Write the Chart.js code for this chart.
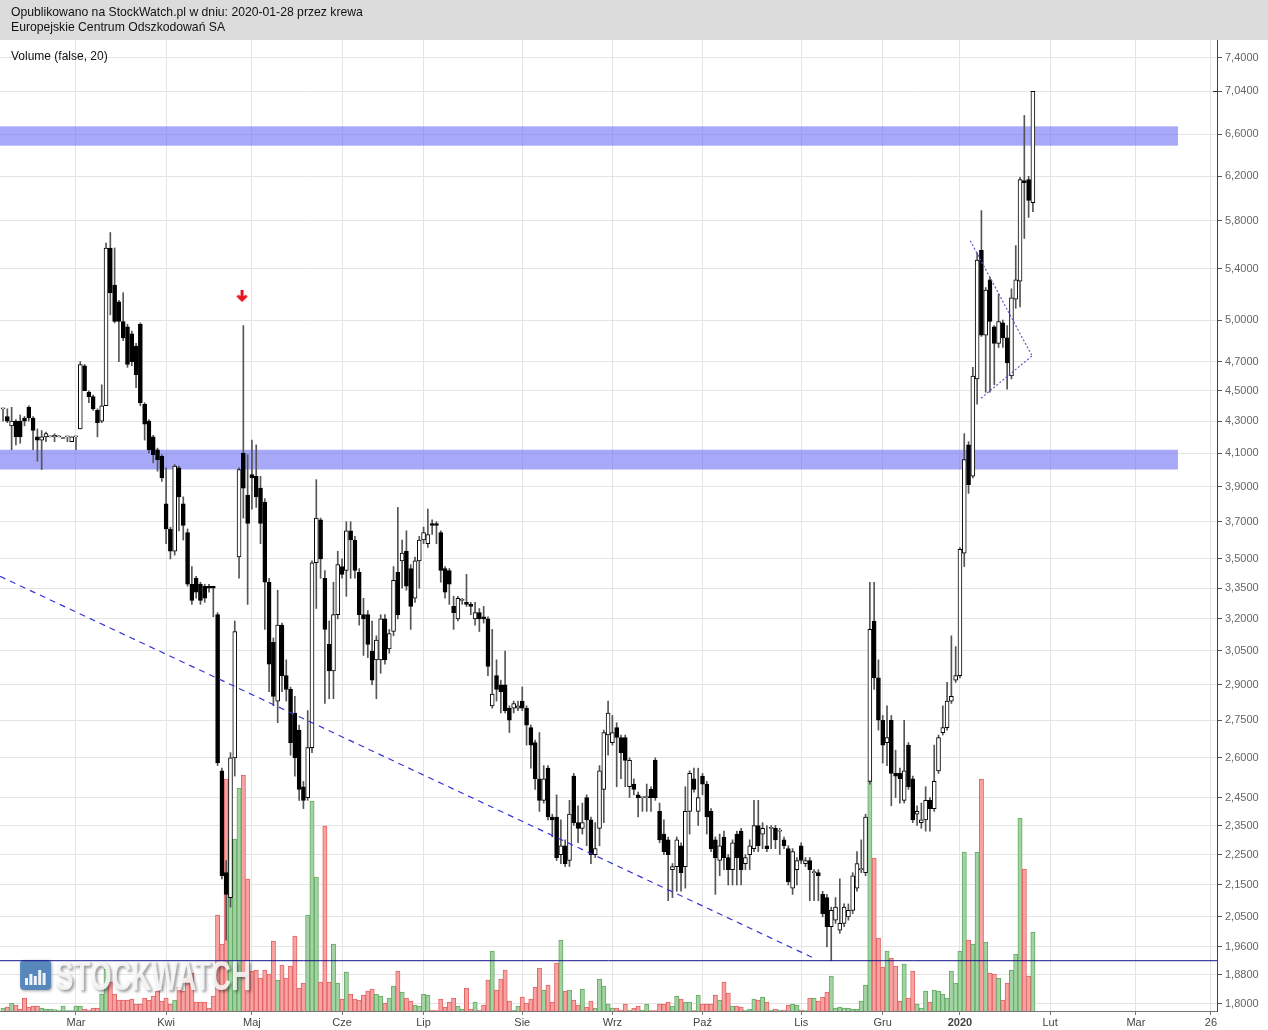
<!DOCTYPE html>
<html>
<head>
<meta charset="utf-8">
<script src="https://cdn.jsdelivr.net/npm/chart.js@4.4.1/dist/chart.umd.min.js"></script>
<style>
  html, body { margin: 0; padding: 0; background: #fff; }
</style>
</head>
<body>
<canvas id="myChart" width="1268" height="1030"></canvas>
<script>
const ctx = document.getElementById('myChart').getContext('2d')
Chart.defaults.font.family = '"Liberation Sans", Arial, sans-serif'

// notowania dzienne, indeks = kolejna sesja od 2019-02-06
const openP = [
  4.38, 4.33, 4.27, 4.30, 4.30, 4.32, 4.39, 4.32, 4.20, 4.18,
  4.20, 4.20, 4.20, 4.20, 4.19, 4.20, 4.17, 4.20, 4.25, 4.67,
  4.49, 4.46, 4.37, 4.30, 4.40, 5.57, 5.27, 5.14, 4.99, 4.95,
  4.90, 4.81, 4.97, 4.41, 4.30, 4.20, 4.12, 4.08, 3.80, 3.66,
  3.54, 4.01, 3.80, 3.64, 3.37, 3.40, 3.37, 3.36, 3.36, 3.36,
  3.22, 2.55, 2.19, 2.11, 2.60, 3.51, 4.10, 3.85, 3.97, 3.96,
  3.89, 3.81, 3.38, 3.09, 2.83, 3.17, 2.94, 2.88, 2.78, 2.71,
  2.49, 2.45, 2.64, 3.48, 3.71, 3.40, 3.08, 2.96, 3.22, 3.46,
  3.44, 3.65, 3.60, 3.43, 3.22, 3.22, 3.05, 3.01, 3.01, 3.20,
  3.06, 3.14, 3.43, 3.49, 3.54, 3.45, 3.30, 3.49, 3.60, 3.58,
  3.69, 3.69, 3.64, 3.45, 3.44, 3.26, 3.20, 3.29, 3.28, 3.27,
  3.20, 3.23, 3.21, 3.20, 2.81, 2.94, 2.90, 2.90, 2.80, 2.80,
  2.80, 2.83, 2.80, 2.72, 2.66, 2.52, 2.44, 2.56, 2.38, 2.38,
  2.25, 2.28, 2.23, 2.53, 2.36, 2.34, 2.45, 2.37, 2.25, 2.34,
  2.48, 2.69, 2.66, 2.72, 2.68, 2.68, 2.49, 2.50, 2.46, 2.45,
  2.45, 2.48, 2.59, 2.40, 2.32, 2.30, 2.20, 2.21, 2.28, 2.21,
  2.40, 2.52, 2.40, 2.53, 2.50, 2.40, 2.30, 2.23, 2.31, 2.24,
  2.20, 2.32, 2.33, 2.22, 2.25, 2.27, 2.35, 2.32, 2.28, 2.34,
  2.34, 2.33, 2.30, 2.27, 2.14, 2.20, 2.28, 2.22, 2.23, 2.19,
  2.19, 2.12, 2.11, 2.02, 2.04, 2.01, 2.03, 2.05, 2.07, 2.14,
  2.20, 2.19, 2.51, 3.19, 2.93, 2.75, 2.66, 2.75, 2.54, 2.54,
  2.44, 2.65, 2.52, 2.39, 2.36, 2.37, 2.44, 2.41, 2.55, 2.70,
  2.72, 2.83, 2.92, 2.94, 3.53, 4.15, 3.96, 4.58, 5.55, 4.89,
  5.31, 4.95, 4.83, 4.98, 4.87, 4.60, 5.16, 5.30, 6.16, 6.17,
  5.96
]
const highP = [
  4.38, 4.38, 4.39, 4.31, 4.34, 4.33, 4.40, 4.33, 4.25, 4.24,
  4.23, 4.20, 4.22, 4.20, 4.19, 4.20, 4.20, 4.20, 4.70, 4.68,
  4.50, 4.47, 4.38, 4.54, 5.61, 5.70, 5.57, 5.15, 5.21, 4.97,
  4.92, 4.83, 4.98, 4.42, 4.31, 4.21, 4.13, 4.09, 4.01, 3.67,
  4.03, 4.02, 3.84, 3.66, 3.46, 3.41, 3.38, 3.37, 3.37, 3.36,
  3.23, 2.56, 2.23, 2.62, 3.19, 4.01, 4.96, 4.09, 4.18, 4.15,
  3.96, 3.83, 3.40, 3.11, 3.34, 3.18, 3.01, 2.89, 2.85, 2.73,
  2.51, 2.79, 3.49, 3.94, 3.72, 3.44, 3.19, 3.38, 3.54, 3.50,
  3.70, 3.70, 3.62, 3.45, 3.30, 3.24, 3.19, 3.12, 3.22, 3.22,
  3.15, 3.46, 3.78, 3.60, 3.65, 3.47, 3.51, 3.62, 3.67, 3.77,
  3.71, 3.70, 3.65, 3.46, 3.45, 3.31, 3.31, 3.30, 3.42, 3.28,
  3.28, 3.25, 3.26, 3.21, 3.15, 3.01, 2.92, 3.05, 2.81, 2.83,
  2.83, 2.89, 2.81, 2.73, 2.67, 2.70, 2.57, 2.57, 2.39, 2.46,
  2.37, 2.30, 2.44, 2.54, 2.42, 2.43, 2.46, 2.38, 2.36, 2.57,
  2.71, 2.83, 2.77, 2.74, 2.69, 2.69, 2.60, 2.52, 2.47, 2.45,
  2.50, 2.49, 2.60, 2.43, 2.37, 2.31, 2.22, 2.31, 2.29, 2.49,
  2.55, 2.56, 2.56, 2.54, 2.51, 2.41, 2.31, 2.32, 2.33, 2.25,
  2.30, 2.33, 2.34, 2.25, 2.30, 2.44, 2.44, 2.36, 2.35, 2.35,
  2.35, 2.34, 2.31, 2.28, 2.27, 2.24, 2.29, 2.24, 2.24, 2.20,
  2.20, 2.13, 2.12, 2.08, 2.11, 2.17, 2.09, 2.09, 2.19, 2.26,
  2.30, 2.39, 3.38, 3.38, 3.01, 2.77, 2.81, 2.77, 2.63, 2.56,
  2.75, 2.66, 2.53, 2.42, 2.43, 2.49, 2.45, 2.65, 2.69, 2.81,
  2.91, 3.12, 3.07, 3.56, 4.22, 4.17, 4.66, 5.53, 5.89, 5.25,
  5.33, 4.96, 5.20, 5.00, 4.96, 5.24, 5.59, 6.19, 6.79, 6.20,
  7.04
]
const lowP = [
  4.30, 4.29, 4.12, 4.15, 4.16, 4.27, 4.30, 4.12, 4.05, 4.00,
  4.17, 4.20, 4.17, 4.20, 4.19, 4.17, 4.17, 4.12, 4.25, 4.50,
  4.42, 4.37, 4.20, 4.29, 4.40, 5.04, 4.98, 4.70, 4.85, 4.66,
  4.67, 4.52, 4.40, 4.18, 4.10, 4.04, 3.99, 3.93, 3.58, 3.50,
  3.52, 3.65, 3.60, 3.36, 3.27, 3.30, 3.27, 3.28, 3.33, 3.21,
  2.57, 2.17, 1.98, 2.08, 2.53, 3.40, 3.72, 3.27, 3.77, 3.78,
  3.58, 3.15, 2.87, 2.81, 2.74, 2.87, 2.83, 2.61, 2.53, 2.44,
  2.41, 2.44, 2.62, 3.25, 3.40, 2.82, 2.84, 2.84, 3.20, 3.40,
  3.31, 3.40, 3.40, 3.17, 3.03, 3.02, 2.90, 2.84, 2.95, 2.99,
  3.04, 3.12, 3.20, 3.35, 3.34, 3.15, 3.28, 3.35, 3.58, 3.56,
  3.63, 3.58, 3.38, 3.30, 3.27, 3.15, 3.19, 3.27, 3.26, 3.22,
  3.17, 3.14, 3.18, 2.94, 2.80, 2.83, 2.78, 2.78, 2.70, 2.78,
  2.79, 2.79, 2.65, 2.56, 2.48, 2.40, 2.43, 2.37, 2.31, 2.23,
  2.22, 2.21, 2.21, 2.35, 2.29, 2.32, 2.28, 2.22, 2.24, 2.28,
  2.36, 2.61, 2.65, 2.49, 2.52, 2.49, 2.45, 2.46, 2.38, 2.40,
  2.40, 2.40, 2.44, 2.29, 2.25, 2.10, 2.11, 2.13, 2.13, 2.14,
  2.32, 2.47, 2.35, 2.46, 2.32, 2.26, 2.12, 2.18, 2.20, 2.15,
  2.15, 2.15, 2.15, 2.20, 2.20, 2.26, 2.26, 2.27, 2.26, 2.27,
  2.27, 2.25, 2.27, 2.15, 2.12, 2.15, 2.22, 2.21, 2.10, 2.10,
  2.10, 2.05, 1.96, 1.92, 2.03, 2.00, 2.02, 2.04, 2.06, 2.13,
  2.19, 2.18, 2.50, 2.88, 2.71, 2.58, 2.57, 2.42, 2.45, 2.43,
  2.43, 2.48, 2.36, 2.35, 2.34, 2.33, 2.33, 2.40, 2.54, 2.69,
  2.71, 2.82, 2.91, 2.93, 3.46, 3.86, 3.95, 4.41, 4.88, 4.49,
  4.49, 4.54, 4.80, 4.80, 4.51, 4.58, 5.09, 5.10, 5.65, 5.83,
  5.88
]
const closeP = [
  4.38, 4.30, 4.30, 4.20, 4.20, 4.30, 4.32, 4.24, 4.18, 4.20,
  4.22, 4.20, 4.21, 4.20, 4.19, 4.20, 4.20, 4.20, 4.68, 4.50,
  4.46, 4.38, 4.29, 4.40, 5.57, 5.21, 4.99, 4.99, 4.87, 4.68,
  4.70, 4.61, 4.42, 4.28, 4.12, 4.09, 4.06, 3.95, 3.66, 3.54,
  4.02, 3.84, 3.68, 3.37, 3.29, 3.33, 3.29, 3.30, 3.35, 3.35,
  2.58, 2.18, 2.12, 2.60, 3.14, 4.00, 3.89, 3.69, 3.95, 3.84,
  3.69, 3.38, 2.99, 2.85, 3.17, 2.94, 2.88, 2.66, 2.60, 2.48,
  2.44, 2.64, 3.48, 3.72, 3.50, 3.15, 2.96, 3.22, 3.47, 3.42,
  3.65, 3.60, 3.44, 3.22, 3.20, 3.08, 2.92, 3.10, 3.20, 3.01,
  3.13, 3.39, 3.22, 3.53, 3.36, 3.26, 3.49, 3.60, 3.64, 3.63,
  3.68, 3.68, 3.44, 3.33, 3.37, 3.23, 3.30, 3.29, 3.27, 3.26,
  3.23, 3.20, 3.20, 2.98, 2.86, 2.88, 2.87, 2.79, 2.75, 2.82,
  2.81, 2.80, 2.73, 2.65, 2.52, 2.44, 2.52, 2.38, 2.37, 2.24,
  2.28, 2.22, 2.39, 2.36, 2.34, 2.36, 2.37, 2.25, 2.27, 2.55,
  2.70, 2.78, 2.70, 2.68, 2.62, 2.59, 2.59, 2.48, 2.45, 2.45,
  2.45, 2.45, 2.45, 2.30, 2.26, 2.25, 2.21, 2.30, 2.19, 2.40,
  2.54, 2.48, 2.45, 2.50, 2.38, 2.27, 2.24, 2.28, 2.24, 2.20,
  2.29, 2.24, 2.20, 2.24, 2.28, 2.35, 2.28, 2.34, 2.27, 2.34,
  2.30, 2.33, 2.28, 2.16, 2.26, 2.23, 2.23, 2.23, 2.20, 2.19,
  2.18, 2.06, 2.02, 2.07, 2.08, 2.03, 2.08, 2.07, 2.18, 2.22,
  2.20, 2.38, 3.15, 2.93, 2.75, 2.65, 2.68, 2.54, 2.53, 2.52,
  2.55, 2.49, 2.37, 2.40, 2.37, 2.44, 2.41, 2.51, 2.68, 2.72,
  2.83, 2.85, 2.94, 3.55, 4.06, 3.91, 4.60, 5.47, 4.89, 5.23,
  4.99, 4.83, 4.99, 4.87, 4.69, 5.17, 5.31, 6.17, 6.14, 5.98,
  7.04
]
// wolumen, tys. szt.
const volume = [
  3, 4, 8, 6, 2, 13, 4, 5, 5, 3,
  2, 2, 1.5, 0.5, 5, 0.5, 0.5, 5, 5, 2,
  1, 3, 3, 17, 42, 29, 17, 11, 11, 11,
  12, 7, 7, 13, 11, 15, 20, 10, 13, 7,
  11, 24, 20, 33, 38, 9, 9, 9, 3, 15,
  96, 67, 232, 172, 172, 223, 236, 132, 40, 41,
  33, 41, 37, 70, 31, 46, 33, 45, 75, 23,
  28, 96, 210, 134, 29, 185, 29, 67, 28, 12,
  39, 17, 12, 11, 16, 20, 22, 17, 15, 8,
  13, 25, 40, 19, 13, 10, 6, 5, 17, 16,
  1, 0.5, 12, 4, 9, 13, 5, 2, 23, 2,
  9, 1, 6, 31, 60, 21, 32, 41, 10, 1,
  5, 14, 8, 12, 24, 43, 21, 26, 9, 48,
  71, 20, 21, 11, 6, 22, 4, 10, 3, 32,
  25, 7, 3, 3, 1, 7, 1, 3, 5, 1,
  7, 0.5, 0.5, 7, 7, 9, 5, 15, 12, 9,
  9, 0.5, 16, 7, 7, 7, 16, 11, 29, 18,
  5, 5, 4, 1, 2, 12, 11, 14, 9, 1,
  2, 1, 1, 6, 7, 6, 1, 0.5, 13, 13,
  10, 14, 19, 35, 3, 4, 3, 3, 2, 2,
  10, 26, 230, 153, 73, 44, 60, 53, 45, 10,
  47, 13, 40, 7, 3, 20, 9, 21, 20, 17,
  13, 40, 28, 60, 159, 71, 67, 159, 232, 69,
  38, 37, 33, 11, 28, 41, 57, 193, 142, 35,
  79
]

// os X: pierwsza sesja miesiaca
const monthIdx = [17, 38, 58, 79, 98, 121, 142, 163, 186, 205, 223, 244, 264, 281.5]
const monthLabels = ['Mar', 'Kwi', 'Maj', 'Cze', 'Lip', 'Sie', 'Wrz', 'Paź', 'Lis', 'Gru', '2020', 'Lut', 'Mar', '26']
// os Y
const priceTicks = [1.80, 1.88, 1.96, 2.05, 2.15, 2.25, 2.35, 2.45, 2.60, 2.75, 2.90, 3.05, 3.20, 3.35,
  3.50, 3.70, 3.90, 4.10, 4.30, 4.50, 4.70, 5.00, 5.40, 5.80, 6.20, 6.60, 7.04, 7.40]

// rysunki uzytkownika
const bandFrom = [4.00, 6.49]
const bandTo = [4.12, 6.68]
const bandEnd = 273.8
const supportX = [-1, 284]
const supportY = [1.92, 1.92]
const trendX = [-0.71, 188.5]
const trendY = [3.41, 1.93]
const triUpX = [225.4, 239.8]
const triUpY = [5.63, 4.74]
const triLowX = [227.9, 239.8]
const triLowY = [4.45, 4.74]
const arrowX = [55.7]
const arrowY = [5.18]
const lastPrice = 7.04

const idx = openP.map((v, i) => i)
const up = idx.map(i => closeP[i] >= openP[i])

const arrowImg = document.createElement('canvas')
arrowImg.width = 13
arrowImg.height = 13
const ac = arrowImg.getContext('2d')
ac.strokeStyle = '#e8141c'
ac.lineWidth = 3
ac.beginPath()
ac.moveTo(6.5, 0)
ac.lineTo(6.5, 9)
ac.stroke()
ac.beginPath()
ac.moveTo(2, 5.5)
ac.lineTo(6.5, 10)
ac.lineTo(11, 5.5)
ac.stroke()

function pts(xs, ys) {
    return xs.map((x, i) => ({ x: x, y: ys[i] }))
}

const drawings = {
    id: 'drawings',
    beforeDraw(chart) {
        const c = chart.ctx
        c.save()
        c.fillStyle = '#fff'
        c.fillRect(0, 0, chart.width, chart.height)
        c.fillStyle = '#dcdcdc'
        c.fillRect(0, 0, chart.width, 40)
        c.fillStyle = '#111'
        c.font = '12.2px "Liberation Sans", Arial, sans-serif'
        c.textBaseline = 'middle'
        c.fillText('Opublikowano na StockWatch.pl w dniu: 2020-01-28 przez krewa', 11, 13)
        c.fillText('Europejskie Centrum Odszkodowań SA', 11, 28)
        c.restore()
    },
    beforeDatasetsDraw(chart) {
        const { ctx: c, chartArea: a, scales: { x, y } } = chart
        c.save()
        c.beginPath()
        c.rect(a.left, a.top, a.right - a.left, a.bottom - a.top)
        c.clip()
        c.fillStyle = 'rgba(110, 110, 245, 0.6)'
        const x1 = x.getPixelForValue(bandEnd)
        bandFrom.forEach((v, i) => {
            const y0 = y.getPixelForValue(bandTo[i])
            const y1 = y.getPixelForValue(v)
            c.fillRect(a.left, y0, x1 - a.left, y1 - y0)
        })
        c.restore()
    },
    afterDatasetDraw(chart, args) {
        if (args.index !== 0) return
        // znak wodny
        const c = chart.ctx
        const a = chart.chartArea
        const bx = a.left + 20, by = a.bottom - 51
        c.save()
        c.shadowColor = 'rgba(0,0,0,0.4)'
        c.shadowBlur = 3
        c.shadowOffsetX = 1
        c.shadowOffsetY = 1
        c.fillStyle = 'rgba(80, 132, 190, 0.9)'
        c.beginPath()
        c.roundRect(bx, by, 31, 30, 4)
        c.fill()
        c.shadowColor = 'transparent'
        c.fillStyle = 'rgba(255,255,255,0.9)'
        const hs = [7, 11, 9, 15, 12]
        hs.forEach((h, i) => c.fillRect(bx + 5 + i * 4.4, by + 25 - h, 3, h))
        c.shadowColor = 'rgba(0,0,0,0.45)'
        c.shadowBlur = 3
        c.shadowOffsetX = 2
        c.shadowOffsetY = 2
        c.fillStyle = 'rgba(250,250,250,0.88)'
        c.font = 'bold 42px "Liberation Sans", Arial, sans-serif'
        c.textBaseline = 'alphabetic'
        c.translate(bx + 35, by + 30)
        c.scale(0.66, 1)
        c.fillText('STOCKWATCH', 0, 0)
        c.restore()
    },
    afterDraw(chart) {
        const c = chart.ctx
        const a = chart.chartArea
        c.save()
        c.fillStyle = '#111'
        c.font = '12px "Liberation Sans", Arial, sans-serif'
        c.textBaseline = 'middle'
        c.fillText('Volume (false, 20)', 11, 57)
        const yp = Math.round(chart.scales.y.getPixelForValue(lastPrice)) + 0.5
        c.strokeStyle = '#333'
        c.lineWidth = 1
        c.beginPath()
        c.moveTo(a.right - 4, yp)
        c.lineTo(a.right, yp)
        c.stroke()
        c.restore()
    }
}

new Chart(ctx, {
    type: 'bar',
    data: {
        datasets: [
            {
                label: 'Volume',
                yAxisID: 'yv',
                data: idx.map(i => ({ x: i, y: volume[i] })),
                backgroundColor: up.map(u => (u ? '#a3d3a3' : '#f8a2a2')),
                borderColor: up.map(u => (u ? '#63a963' : '#e06464')),
                borderWidth: 1,
                barPercentage: 1,
                categoryPercentage: 1,
                grouped: false,
                order: 10,
            },
            {
                label: 'wicks',
                data: idx.map(i => ({ x: i, y: [lowP[i], highP[i]] })),
                backgroundColor: '#555',
                borderWidth: 0,
                barThickness: 1,
                minBarLength: 1,
                grouped: false,
                order: 3,
            },
            {
                label: 'bodies',
                data: idx.map(i => ({ x: i, y: [openP[i], closeP[i]] })),
                backgroundColor: up.map(u => (u ? '#fff' : '#000')),
                borderColor: '#000',
                borderWidth: 1,
                borderSkipped: false,
                barThickness: 4,
                minBarLength: 1,
                grouped: false,
                order: 2,
            },
            {
                type: 'line',
                label: 'support',
                data: pts(supportX, supportY),
                borderColor: '#14148c',
                borderWidth: 1,
                pointRadius: 0,
                order: 1,
            },
            {
                type: 'line',
                label: 'trend',
                data: pts(trendX, trendY),
                borderColor: '#3535d8',
                borderWidth: 1.2,
                borderDash: [6, 5],
                pointRadius: 0,
                order: 1,
            },
            {
                type: 'line',
                label: 'triangle top',
                data: pts(triUpX, triUpY),
                borderColor: '#5a5ac8',
                borderWidth: 1.2,
                borderDash: [2, 2],
                pointRadius: 0,
                order: 1,
            },
            {
                type: 'line',
                label: 'triangle bottom',
                data: pts(triLowX, triLowY),
                borderColor: '#5a5ac8',
                borderWidth: 1.2,
                borderDash: [2, 2],
                pointRadius: 0,
                order: 1,
            },
            {
                type: 'line',
                label: 'signal',
                data: pts(arrowX, arrowY),
                showLine: false,
                pointStyle: arrowImg,
                pointRadius: 6,
                order: 0,
            },
        ],
    },
    options: {
        responsive: false,
        animation: false,
        events: [],
        layout: { autoPadding: false, padding: { top: 40, left: 0, right: 0, bottom: 0 } },
        plugins: {
            legend: { display: false },
            tooltip: { enabled: false },
        },
        scales: {
            x: {
                type: 'linear',
                min: -0.71,
                max: 282.9,
                offset: false,
                grid: { offset: false, color: '#e4e4e4', tickColor: '#777', tickLength: 4 },
                border: { color: '#777' },
                afterBuildTicks: (s) => {
                    s.ticks = monthIdx.map(v => ({ value: v }))
                },
                afterFit: (s) => {
                    s.height = 19
                    s.paddingLeft = 0
                    s.paddingRight = 0
                },
                ticks: {
                    autoSkip: false,
                    maxRotation: 0,
                    padding: 1,
                    color: '#444',
                    font: (c) => ({
                        size: 11,
                        weight: c.tick && monthLabels[monthIdx.indexOf(c.tick.value)] === '2020' ? 'bold' : 'normal',
                    }),
                    callback: (v, i) => monthLabels[i],
                },
            },
            y: {
                type: 'logarithmic',
                position: 'right',
                min: 1.781,
                max: 7.6,
                grid: { color: '#e4e4e4', tickColor: '#555', tickLength: 5 },
                border: { color: '#444' },
                afterBuildTicks: (s) => {
                    s.ticks = priceTicks.map(v => ({ value: v }))
                },
                afterFit: (s) => {
                    s.width = 51
                    s.paddingTop = 0
                    s.paddingBottom = 0
                },
                ticks: {
                    autoSkip: false,
                    padding: 3,
                    color: '#666',
                    font: { size: 11 },
                    callback: (v) => Number(v).toFixed(4).replace('.', ','),
                },
            },
            yv: {
                type: 'linear',
                display: false,
                min: 0,
                max: 971,
            },
        },
    },
    plugins: [drawings],
})
</script>
</body>
</html>
